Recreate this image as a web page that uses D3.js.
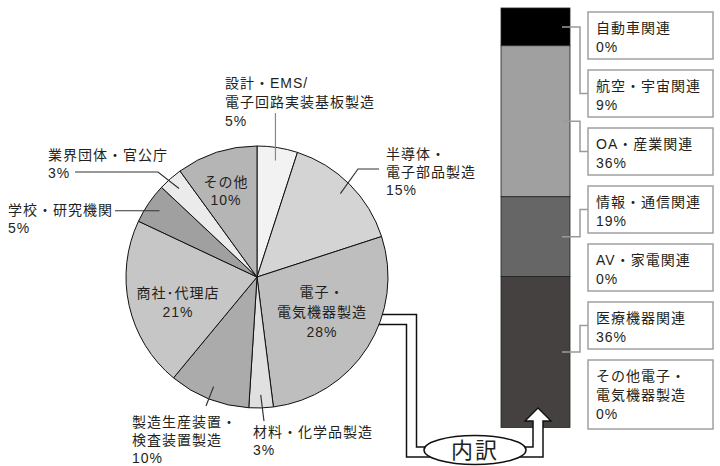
<!DOCTYPE html>
<html>
<head>
<meta charset="utf-8">
<script src="https://cdn.jsdelivr.net/npm/d3@7"></script>
<style>
body { margin: 0; background: #fff; }
text { font-family: "Liberation Sans", "Noto Sans CJK JP", sans-serif; font-size: 14px; letter-spacing: 1px; fill: #231f20; }
</style>
</head>
<body>
<div id="chart"></div>
<script>
// pie: all industries (clockwise from 12 o'clock)
const pieNames = ["設計・EMS/\n電子回路実装基板製造", "半導体・\n電子部品製造", "電子・\n電気機器製造", "材料・化学品製造",
    "製造生産装置・\n検査装置製造", "商社･代理店", "学校・研究機関", "業界団体・官公庁", "その他"];
const pieValues = [5, 15, 28, 3, 10, 21, 5, 3, 10];
const pieColors = ["#f2f2f2", "#d4d4d4", "#bebebe", "#e0e0e0", "#ababab", "#c6c6c6", "#a0a0a0", "#ebebeb", "#b5b5b5"];

// stacked bar: breakdown of 電子・電気機器製造
const barNames = ["自動車関連", "航空・宇宙関連", "OA・産業関連", "情報・通信関連", "AV・家電関連", "医療機器関連", "その他電子・\n電気機器製造"];
const barValues = [0, 9, 36, 19, 0, 36, 0];
const barColors = ["#000000", "#000000", "#a0a0a0", "#666666", "#5a5a5a", "#454141", "#454141"];

const msm = { width: 720, height: 466, cx: 257, cy: 277, r: 131 };

// where each pie label goes (null point value = keep previous x / y)
const pieLabelPos = [
    { x: 225, y: 83, anchor: "start", lh: 19, leader: [[null, 113]] },
    { x: 386, y: 154, anchor: "start", lh: 18, leader: [[358, 169], [379, null]] },
    { x: 322, y: 292, anchor: "middle", lh: 20, leader: null },
    { x: 253, y: 432, anchor: "start", lh: 18, leader: [[264, 421]] },
    { x: 132, y: 422, anchor: "start", lh: 18, leader: [[206, 406]] },
    { x: 178, y: 293, anchor: "middle", lh: 19, leader: null },
    { x: 8, y: 210, anchor: "start", lh: 18, leader: [[115, null]] },
    { x: 48, y: 155, anchor: "start", lh: 18, leader: [[158, 172], [75, null]] },
    { x: 226, y: 182, anchor: "middle", lh: 18, leader: null }
];

const svg = d3.select("#chart").append("svg")
    .attr("width", msm.width)
    .attr("height", msm.height);

function multiline(g, lines, x, y, lh, anchor) {
    let t = g.append("text").attr("text-anchor", anchor);
    lines.forEach((s, i) => {
        t.append("tspan").attr("x", x).attr("y", y + i * lh).attr("dy", "0.36em").text(s);
    });
    return t;
}

function band(path, outer, inner) {
    svg.append("path").attr("d", path).attr("fill", "none")
        .attr("stroke", "#111").attr("stroke-width", outer).attr("stroke-linejoin", "miter");
    svg.append("path").attr("d", path).attr("fill", "none")
        .attr("stroke", "#fff").attr("stroke-width", inner).attr("stroke-linejoin", "miter");
}

// connector from the pie slice to the "内訳" ellipse (drawn first, pie covers its start)
band("M370,319.5H411.5V452H445", 11.5, 8.5);

// ---- pie ----
let pie = d3.pie().sort(null).value(d => d)(pieValues);
let arc = d3.arc().innerRadius(0).outerRadius(msm.r);
let innerArc = d3.arc().innerRadius(msm.r * 0.9).outerRadius(msm.r * 0.9);

let pieG = svg.append("g").attr("transform", "translate(" + msm.cx + "," + msm.cy + ")");
pieG.selectAll(".slice")
    .data(pie)
    .enter()
    .append("path")
    .attr("class", "slice")
    .attr("d", arc)
    .attr("fill", (d, i) => pieColors[i])
    .attr("stroke", "#111")
    .attr("stroke-width", 1);

let labelG = svg.append("g");
pie.forEach((d, i) => {
    let pos = pieLabelPos[i];
    if (pos.leader) {
        let c = innerArc.centroid(d);
        let pts = [[c[0] + msm.cx, c[1] + msm.cy]];
        pos.leader.forEach(p => {
            let prev = pts[pts.length - 1];
            pts.push([p[0] == null ? prev[0] : p[0], p[1] == null ? prev[1] : p[1]]);
        });
        labelG.append("path")
            .attr("d", d3.line()(pts))
            .attr("fill", "none")
            .attr("stroke", i == 0 ? "#888" : "#333")
            .attr("stroke-width", 1.2);
    }
    let lines = pieNames[i].split("\n").concat([pieValues[i] + "%"]);
    multiline(labelG, lines, pos.x, pos.y, pos.lh, pos.anchor);
});

// ---- stacked bar ----
let yScale = d3.scaleLinear().domain([0, 100]).range([8, 427.5]);
let xBar = d3.scaleBand().domain(["bar"]).range([501, 570]);
let cum = 0;
let segs = barValues.map((v, i) => {
    let s = { i: i, y0: cum, y1: cum + v, v: v };
    cum += v;
    return s;
});
svg.selectAll(".seg")
    .data(segs.filter(s => s.v > 0))
    .enter()
    .append("rect")
    .attr("class", "seg")
    .attr("x", xBar("bar"))
    .attr("width", xBar.bandwidth())
    .attr("y", s => yScale(s.y0))
    .attr("height", s => yScale(s.y1) - yScale(s.y0))
    .attr("fill", s => barColors[s.i])
    .attr("stroke", "#222")
    .attr("stroke-width", 0.8);

// boxes with labels
let boxX = 588, boxW = 125;
let boxTop = i => 12 + i * 58;
let boxH = n => 47 + (n - 2) * 22;
barNames.forEach((name, i) => {
    let lines = name.split("\n").concat([barValues[i] + "%"]);
    let top = boxTop(i), h = boxH(lines.length);
    if (barValues[i] > 0) {
        let sy = (yScale(segs[i].y0) + yScale(segs[i].y1)) / 2;
        svg.append("path")
            .attr("d", d3.line()([[562, sy], [580, sy], [580, top + h / 2], [boxX, top + h / 2]]))
            .attr("fill", "none")
            .attr("stroke", "#9a9a9a")
            .attr("stroke-width", 1.5);
    }
    svg.append("rect")
        .attr("x", boxX).attr("y", top)
        .attr("width", boxW).attr("height", h)
        .attr("fill", "#fff")
        .attr("stroke", "#a0a0a0")
        .attr("stroke-width", 1.5);
    multiline(svg, lines, 596, top + 16, 19, "start");
});

// arrow from ellipse up into the bar
svg.append("path").attr("d", "M505,452H538V421").attr("fill", "none")
    .attr("stroke", "#111").attr("stroke-width", 11.5).attr("stroke-linejoin", "miter");
svg.append("path").attr("d", "M525,421L538,408L551,421Z")
    .attr("fill", "#fff").attr("stroke", "#111").attr("stroke-width", 1.4);
svg.append("path").attr("d", "M505,452H538V419.5").attr("fill", "none")
    .attr("stroke", "#fff").attr("stroke-width", 8.5).attr("stroke-linejoin", "miter");

svg.append("ellipse")
    .attr("cx", 475).attr("cy", 450)
    .attr("rx", 51).attr("ry", 14.5)
    .attr("fill", "#fff")
    .attr("stroke", "#111")
    .attr("stroke-width", 1.5);
svg.append("text")
    .attr("x", 475).attr("y", 450).attr("dy", "0.36em")
    .attr("text-anchor", "middle")
    .style("font-size", "22px")
    .style("letter-spacing", "2px")
    .text("内訳");
</script>
</body>
</html>
